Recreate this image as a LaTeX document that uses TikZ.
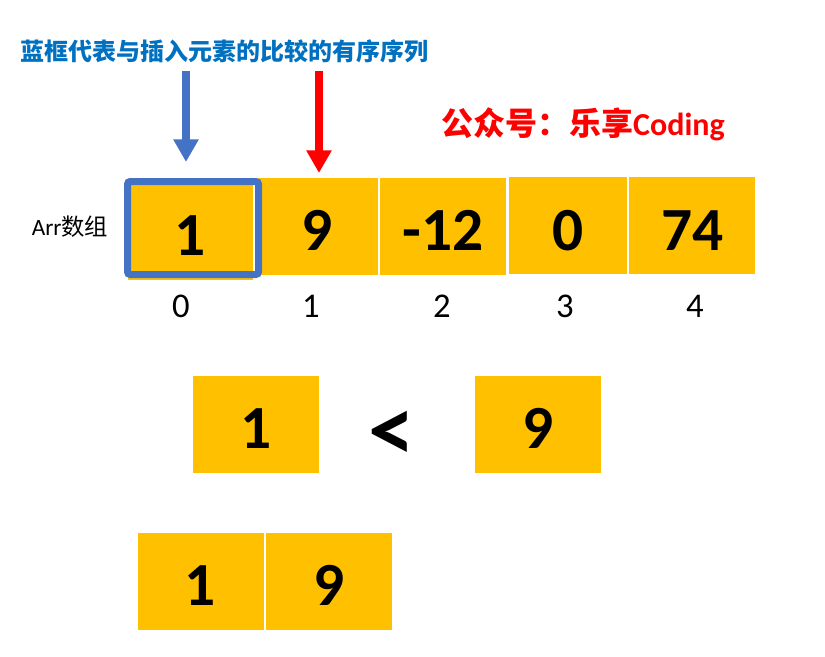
\documentclass[tikz,border=0pt]{standalone}
\usepackage{fontspec}
\setmainfont{Carlito}
\newfontfamily\cjk{Noto Sans CJK SC}
\usetikzlibrary{arrows.meta,positioning}
\definecolor{cellyellow}{HTML}{FFC000}
\definecolor{framblue}{HTML}{4472C4}
\definecolor{titleblue}{HTML}{0070C0}
\definecolor{markred}{HTML}{FF0000}
\tikzset{
  cell/.style={fill=cellyellow, inner sep=0pt, minimum width=94.5pt, minimum height=72.75pt,
    text height=36.5pt, text depth=0pt, font=\fontsize{46pt}{50pt}\selectfont\bfseries},
  idx/.style={font=\fontsize{26pt}{30pt}\selectfont},
  pointer/.style={line width=6pt, -{Triangle[width=18pt,length=17pt]}}
}
\begin{document}
\begin{tikzpicture}[x=0.75pt, y=-0.75pt]
    \useasboundingbox (0,0) rectangle (825,657);

    % Titles
    \node[text=titleblue, font=\fontsize{18pt}{22pt}\selectfont\cjk\bfseries] (title) at (224,51) {蓝框代表与插入元素的比较的有序序列};
    \node[text=markred, font=\fontsize{24pt}{28pt}\selectfont\bfseries] (brand) at (583,124) {{\cjk 公众号：乐享}Coding};

    % Array cells
    \node[font=\fontsize{17.5pt}{20pt}\selectfont] (arrname) at (70,227) {Arr{\cjk 数组}};
    \node[cell, minimum width=93.75pt] (arr0) at (190.5,231) {1};
    \node[cell, minimum width=90pt, right=3pt of arr0, yshift=3.4pt] (arr1) {9};
    \node[cell, right=1.5pt of arr1] (arr2) {-12};
    \node[cell, minimum width=88.5pt, right=1.5pt of arr2, yshift=0.6pt] (arr3) {0};
    \node[cell, right=1.5pt of arr3] (arr4) {74};

    % Indices
    \node[idx] (i0) at (181,306) {0};
    \node[idx] (i1) at (311,306) {1};
    \node[idx] (i2) at (442,306) {2};
    \node[idx] (i3) at (565,306) {3};
    \node[idx] (i4) at (695,306) {4};

    % Sorted part frame
    \draw[framblue, line width=5.25pt, rounded corners=2pt] (127.5,181.5) rectangle (258.5,274.5);

    % Pointers
    \coordinate (bluetop) at (186,71);
    \coordinate (bluetip) at (186,162);
    \coordinate (redtop) at (319,71);
    \coordinate (redtip) at (319,173);
    \draw[pointer, framblue] (bluetop) -- (bluetip);
    \draw[pointer, markred] (redtop) -- (redtip);

    % Comparison
    \node[cell] (cmpa) at (256,424) {1};
    \node[font=\fontsize{70pt}{74pt}\selectfont\bfseries] (lt) at (392,436) {<};
    \node[cell] (cmpb) at (538,424) {9};

    % Result
    \node[cell] (res0) at (200.5,581) {1};
    \node[cell, right=1.5pt of res0] (res1) {9};
\end{tikzpicture}
\end{document}
